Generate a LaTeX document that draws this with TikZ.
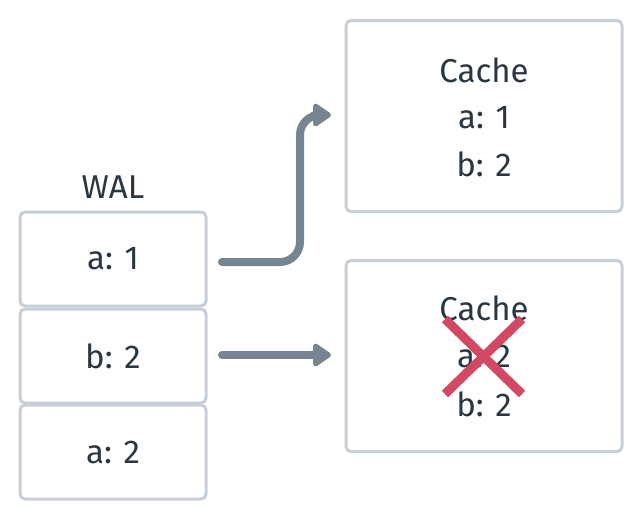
\documentclass[tikz,border=0pt]{standalone}
\usepackage{fontspec}
\setmainfont{Fira Sans}
\usepackage{xcolor}
\usetikzlibrary{arrows.meta, positioning, calc}

\definecolor{boxline}{HTML}{C6CFD8}
\definecolor{txt}{HTML}{2A3642}
\definecolor{arrowgray}{HTML}{778592}
\definecolor{crossred}{HTML}{D34862}

\tikzset{
  walbox/.style={draw=boxline, line width=3pt, rounded corners=5pt,
    minimum width=186pt, minimum height=94pt, text=txt, font=\fontsize{33}{40}\selectfont},
  cachebox/.style={draw=boxline, line width=3pt, rounded corners=5pt,
    minimum width=276pt, minimum height=191pt},
  lbl/.style={text=txt, font=\fontsize{33}{40}\selectfont, inner sep=0pt},
  flow/.style={draw=arrowgray, line width=8pt, line cap=round,
    -{Triangle[length=20pt,width=26pt,round]}},
}

\begin{document}
\begin{tikzpicture}[x=1pt, y=-1pt]
\useasboundingbox (0,0) rectangle (644,520);

% WAL column
\node[lbl] (wal) at (113,187) {WAL};
\node[walbox] (w1) at (113,259) {a: 1};
\node[walbox] (w2) at (113,356) {b: 2};
\node[walbox] (w3) at (113,452) {a: 2};

% Caches
\node[cachebox] (c1) at (484,116) {};
\node[lbl] (c1t) at (484,70) {Cache};
\node[lbl] (c1a) at (484,118) {a: 1};
\node[lbl] (c1b) at (484,164) {b: 2};

\node[cachebox] (c2) at (484,356) {};
\node[lbl] (c2t) at (484,308) {Cache};
\node[lbl] (c2a) at (484,356) {a: 2};
\node[lbl] (c2b) at (484,404) {b: 2};

% Arrows
\coordinate (s1) at (222,262);
\coordinate (e1) at (331,115);
\coordinate (s2) at (222,355);
\coordinate (e2) at (331,355);
\draw[flow, rounded corners=20pt] (s1) -- (300,262) -- (300,115) -- (e1);
\draw[flow] (s2) -- (e2);

% Red cross
\draw[crossred, line width=9pt] (445,319) -- (522,394);
\draw[crossred, line width=9pt] (522,319) -- (445,394);
\end{tikzpicture}
\end{document}
